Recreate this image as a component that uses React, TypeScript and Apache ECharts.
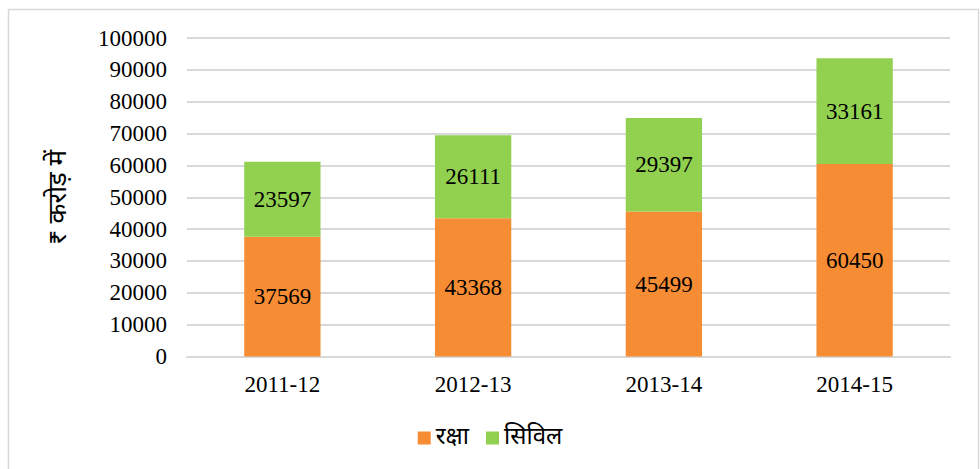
import React, { useEffect, useRef } from "react";
import * as echarts from "echarts";

const categories = ["2011-12", "2012-13", "2013-14", "2014-15"];
const defence = [37569, 43368, 45499, 60450];
const civil = [23597, 26111, 29397, 33161];
const seriesNames = ["रक्षा", "सिविल"];
const yAxisTitle = "₹ करोड़ में";

const serif = "'Liberation Serif', 'Times New Roman', serif";
const deva = "'Noto Sans Devanagari', 'Noto Sans', 'Lohit Devanagari', sans-serif";

export default function App() {
  const ref = useRef<HTMLDivElement>(null);
  useEffect(() => {
    if (!ref.current) return;
    const chart = echarts.init(ref.current, undefined, { renderer: "svg" });
    chart.setOption({
      animation: false,
      backgroundColor: "#ffffff",
      graphic: [
        {
          type: "rect",
          shape: { x: 8.5, y: 9.5, width: 970, height: 520 },
          style: { fill: "none", stroke: "#d9d9d9", lineWidth: 1.5 },
          silent: true,
        },
      ],
      grid: { left: 187, right: 30, top: 38, bottom: 112.5 },
      legend: {
        bottom: 14,
        left: "center",
        itemWidth: 13,
        itemHeight: 13,
        itemGap: 17,
        icon: "rect",
        textStyle: { fontFamily: deva, fontSize: 24, color: "#000" },
        data: seriesNames,
      },
      xAxis: {
        type: "category",
        data: categories,
        axisTick: { show: false },
        axisLine: { lineStyle: { color: "#d9d9d9", width: 2 } },
        axisLabel: { fontFamily: serif, fontSize: 23, color: "#000", margin: 16 },
      },
      yAxis: {
        type: "value",
        min: 0,
        max: 100000,
        interval: 10000,
        name: yAxisTitle,
        nameLocation: "middle",
        nameGap: 114,
        nameRotate: 90,
        nameTextStyle: { fontFamily: deva, fontSize: 26, color: "#000" },
        axisLine: { show: false },
        axisTick: { show: false },
        splitLine: { lineStyle: { color: "#d9d9d9", width: 2 } },
        axisLabel: {
          fontFamily: serif,
          fontSize: 23,
          color: "#000",
          margin: 20,
          formatter: (v: number) => String(v),
        },
      },
      series: [
        {
          name: seriesNames[0],
          type: "bar",
          stack: "total",
          data: defence,
          barWidth: "40%",
          itemStyle: { color: "#F68C33" },
          label: { show: true, position: "inside", fontFamily: serif, fontSize: 23, color: "#000" },
        },
        {
          name: seriesNames[1],
          type: "bar",
          stack: "total",
          data: civil,
          barWidth: "40%",
          itemStyle: { color: "#92D050" },
          label: { show: true, position: "inside", fontFamily: serif, fontSize: 23, color: "#000" },
        },
      ],
    });
    return () => chart.dispose();
  }, []);
  return (
    <div
      ref={ref}
      style={{ position: "absolute", left: 0, top: 0, width: 980, height: 469 }}
    />
  );
}
